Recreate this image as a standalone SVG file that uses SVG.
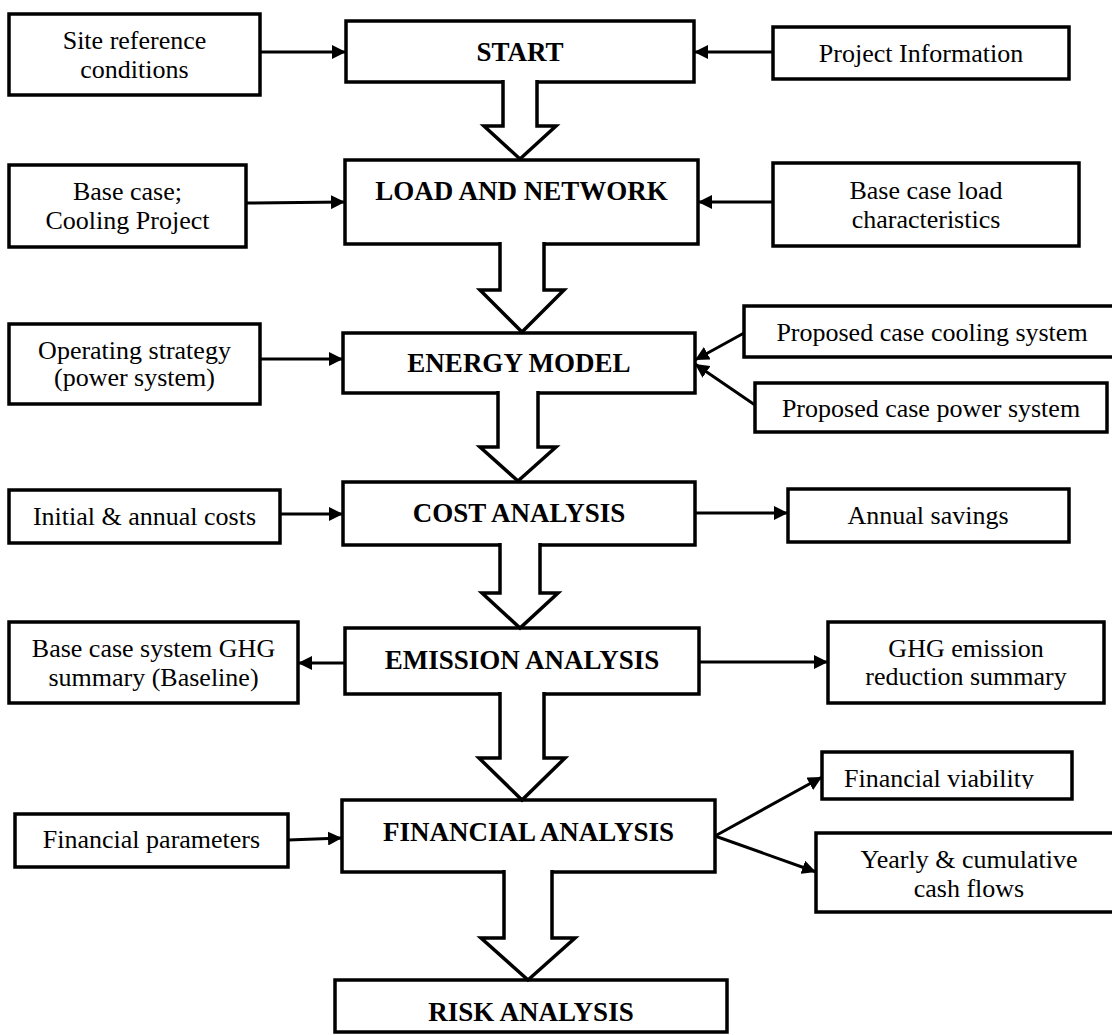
<svg xmlns="http://www.w3.org/2000/svg" width="1112" height="1035" viewBox="0 0 1112 1035">
<style>
.box{fill:#fff;stroke:#000;stroke-width:3.5}
.t{font-family:"Liberation Serif","Times New Roman",serif;font-size:26px;fill:#000;text-anchor:middle}
.b{font-family:"Liberation Serif","Times New Roman",serif;font-size:27px;font-weight:bold;fill:#000;text-anchor:middle}
.conn{stroke:#000;stroke-width:3;fill:none;marker-end:url(#ah)}
.blk{fill:#fff;stroke:#000;stroke-width:3.5;stroke-linejoin:miter}
</style>
<defs>
<marker id="ah" markerUnits="userSpaceOnUse" markerWidth="15" markerHeight="14" refX="14" refY="7" orient="auto">
<path d="M0,0 L14,7 L0,14 z" fill="#000"/>
</marker>
<clipPath id="vclip"><rect x="822" y="752" width="250" height="37"/></clipPath>
</defs>
<rect width="1112" height="1035" fill="#fff"/>

<g id="start"><rect class="box" x="346" y="21" width="348" height="61"/><text class="b" x="520" y="61">START</text></g>
<g id="load"><rect class="box" x="345" y="160" width="353" height="84"/><text class="b" x="521.5" y="200">LOAD AND NETWORK</text></g>
<g id="energy"><rect class="box" x="343" y="333" width="352" height="60"/><text class="b" x="519" y="372">ENERGY MODEL</text></g>
<g id="cost"><rect class="box" x="343" y="482" width="352" height="63"/><text class="b" x="519" y="522">COST ANALYSIS</text></g>
<g id="emission"><rect class="box" x="345" y="628" width="354" height="66"/><text class="b" x="522" y="669">EMISSION ANALYSIS</text></g>
<g id="financial"><rect class="box" x="342" y="800" width="373" height="72"/><text class="b" x="528.5" y="841">FINANCIAL ANALYSIS</text></g>
<g id="risk"><rect class="box" x="335" y="980" width="392" height="52"/><text class="b" x="531" y="1021">RISK ANALYSIS</text></g>

<g id="site"><rect class="box" x="9" y="14" width="251" height="81"/><text class="t" x="134.5" y="49">Site reference</text><text class="t" x="134.5" y="78">conditions</text></g>
<g id="projinfo"><rect class="box" x="773" y="27" width="296" height="52"/><text class="t" x="921" y="62">Project Information</text></g>
<g id="basecase"><rect class="box" x="9" y="165" width="237" height="82"/><text class="t" x="127.5" y="200">Base case;</text><text class="t" x="127.5" y="229">Cooling Project</text></g>
<g id="baseload"><rect class="box" x="773" y="163" width="306" height="83"/><text class="t" x="926" y="199">Base case load</text><text class="t" x="926" y="228">characteristics</text></g>
<g id="operating"><rect class="box" x="9" y="324" width="251" height="80"/><text class="t" x="134.5" y="359">Operating strategy</text><text class="t" x="134.5" y="386">(power system)</text></g>
<g id="cooling"><rect class="box" x="744" y="306" width="372" height="51"/><text class="t" x="932" y="341">Proposed case cooling system</text></g>
<g id="power"><rect class="box" x="755" y="383" width="352" height="49"/><text class="t" x="931" y="417">Proposed case power system</text></g>
<g id="initial"><rect class="box" x="9" y="490" width="271" height="53"/><text class="t" x="144.5" y="525">Initial &amp; annual costs</text></g>
<g id="savings"><rect class="box" x="788" y="489" width="281" height="53"/><text class="t" x="928" y="524">Annual savings</text></g>
<g id="baseghg"><rect class="box" x="9" y="622" width="289" height="81"/><text class="t" x="153.5" y="657">Base case system GHG</text><text class="t" x="153.5" y="686">summary (Baseline)</text></g>
<g id="ghgred"><rect class="box" x="828" y="622" width="276" height="81"/><text class="t" x="966" y="657">GHG emission</text><text class="t" x="966" y="685">reduction summary</text></g>
<g id="finparams"><rect class="box" x="15" y="814" width="273" height="53"/><text class="t" x="151.5" y="848">Financial parameters</text></g>
<g id="viability"><rect class="box" x="822" y="752" width="250" height="47"/><text class="t" x="844" y="787" style="text-anchor:start" clip-path="url(#vclip)">Financial viability</text></g>
<g id="yearly"><rect class="box" x="816" y="833" width="300" height="79"/><text class="t" x="969" y="868">Yearly &amp; cumulative</text><text class="t" x="969" y="897">cash flows</text></g>

<g id="connectors">
<path class="blk" d="M503,80 V126 H484 L520,159 L556,126 H537 V80"/>
<path class="blk" d="M500,242 V290 H480 L522,332 L564,290 H544 V242"/>
<path class="blk" d="M498,391 V447 H480 L518,481 L556,447 H538 V391"/>
<path class="blk" d="M500,543 V593 H482 L520,628 L558,593 H540 V543"/>
<path class="blk" d="M500,692 V758 H479 L522,800 L565,758 H544 V692"/>
<path class="blk" d="M504,870 V938 H481 L528,980 L575,938 H552 V870"/>
<line class="conn" x1="260" y1="52" x2="346" y2="52"/>
<line class="conn" x1="773" y1="52" x2="694" y2="52"/>
<line class="conn" x1="246" y1="203" x2="345" y2="202"/>
<line class="conn" x1="773" y1="202" x2="698" y2="202"/>
<line class="conn" x1="260" y1="359" x2="343" y2="359"/>
<line class="conn" x1="744" y1="333" x2="695" y2="360"/>
<line class="conn" x1="755" y1="405" x2="695" y2="364"/>
<line class="conn" x1="280" y1="514" x2="343" y2="514"/>
<line class="conn" x1="695" y1="513" x2="788" y2="513"/>
<line class="conn" x1="345" y1="663" x2="298" y2="663"/>
<line class="conn" x1="699" y1="662" x2="828" y2="662"/>
<line class="conn" x1="288" y1="840" x2="342" y2="838"/>
<line class="conn" x1="715" y1="836" x2="822" y2="777"/>
<line class="conn" x1="715" y1="836" x2="816" y2="872"/>
</g>
</svg>
